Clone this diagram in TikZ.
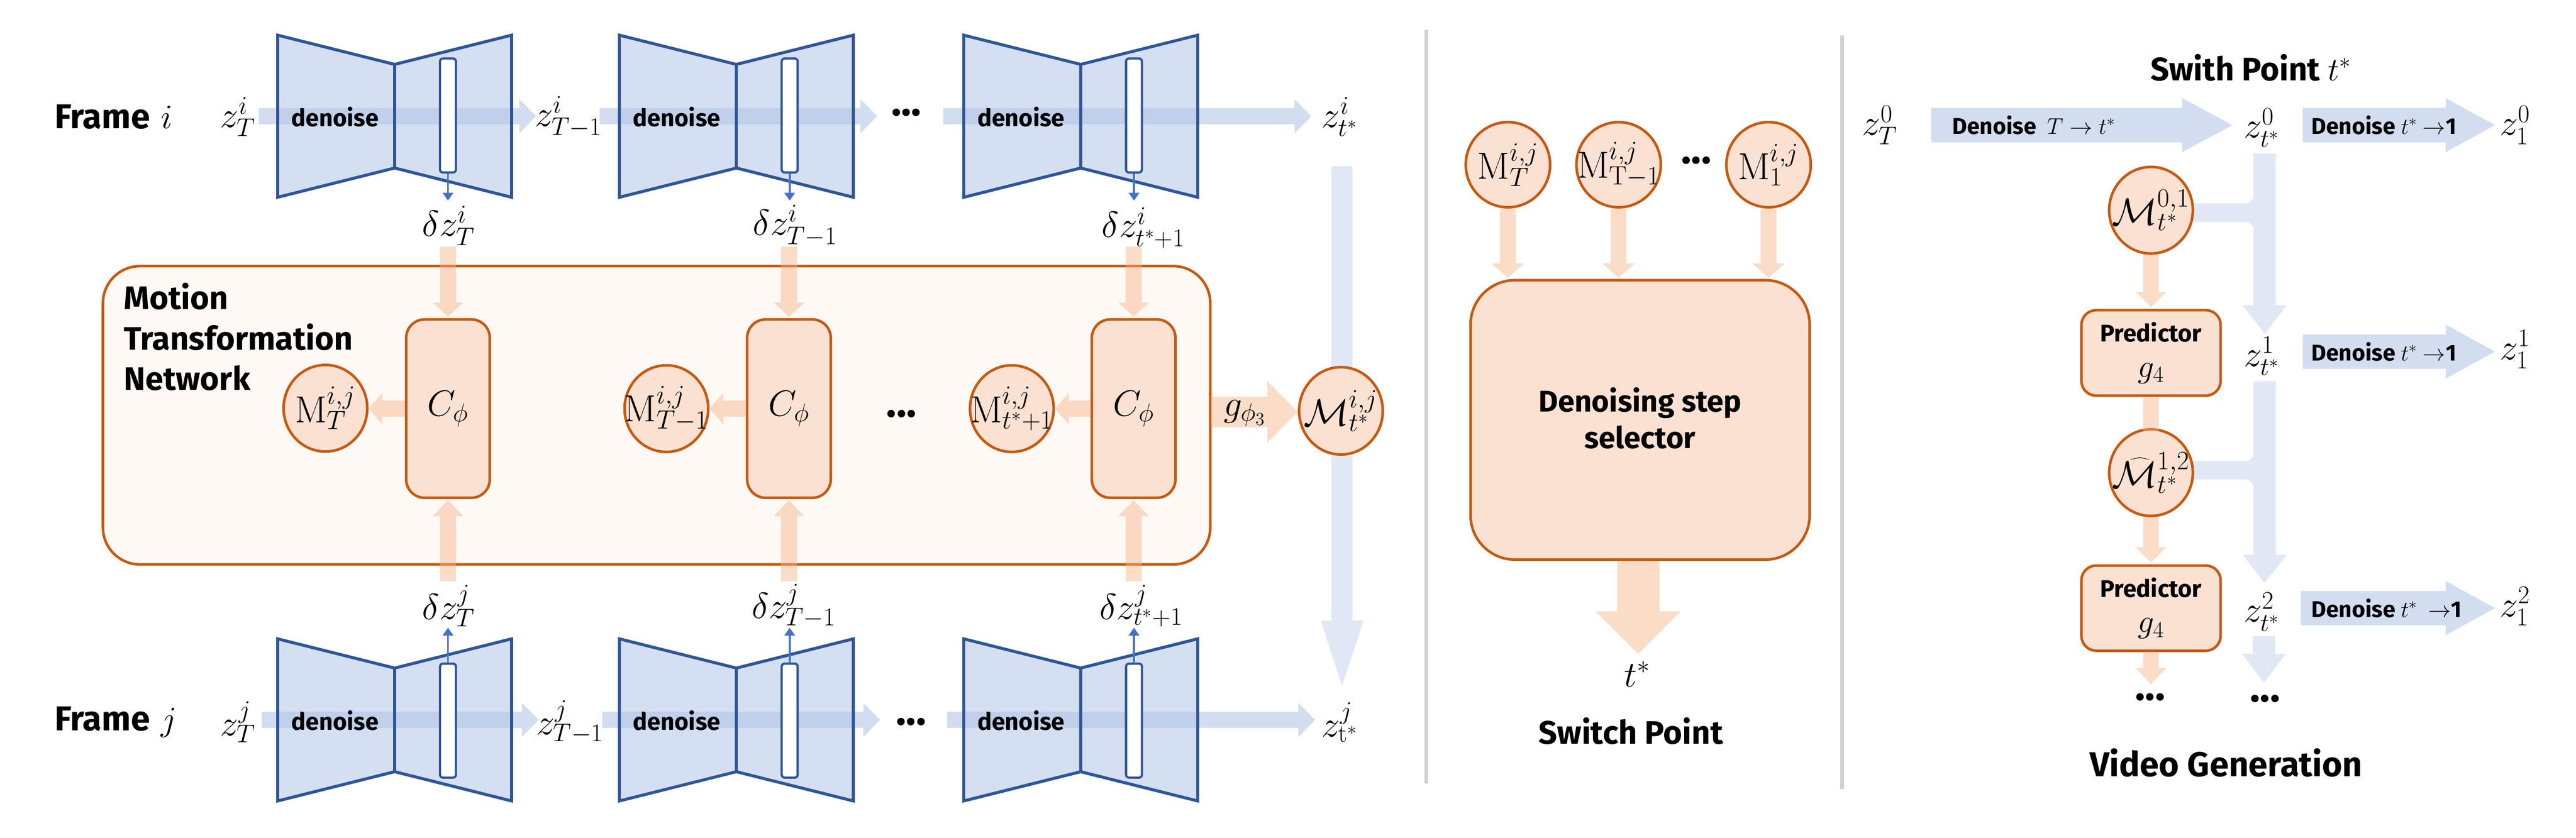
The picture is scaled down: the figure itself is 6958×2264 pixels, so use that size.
\RequirePackage{fix-cm}
\documentclass[tikz,border=0pt]{standalone}
\usepackage[no-math]{fontspec}
\setmainfont{Fira Sans}
\usetikzlibrary{calc,arrows.meta,shapes.geometric}
\newdimen\pxu \pxu=0.01cm
\definecolor{ublue}{HTML}{B4C7E7}
\definecolor{udark}{HTML}{2F5597}
\definecolor{ulink}{HTML}{4472C4}
\definecolor{oline}{HTML}{C55A11}
\definecolor{ofill}{HTML}{FBE1D2}
\definecolor{mtnfill}{HTML}{FFF9F5}
\definecolor{barrow}{HTML}{D2DDF0}
\definecolor{barrowlight}{HTML}{E1E8F5}
\definecolor{oarrow}{HTML}{F4B183}
\definecolor{divgray}{HTML}{D0D0D0}
\tikzset{
  barr/.style={fill=barrow},
  larr/.style={fill=barrowlight},
  oarr/.style={fill=oarrow, fill opacity=0.45},
  bar/.style={draw=udark, line width=1.7pt, fill=white, rounded corners=8\pxu, minimum width=43\pxu, minimum height=308\pxu, inner sep=0pt},
  obox/.style={draw=oline, line width=2pt, fill=ofill, inner sep=0pt},
  ocirc/.style={ellipse, draw=oline, line width=2pt, fill=ofill, inner sep=0pt, minimum width=226\pxu, minimum height=234\pxu},
  ctext/.style={font=\fontsize{29}{33}\selectfont, inner sep=0pt},
  txtbig/.style={font=\fontsize{25}{31}\selectfont\bfseries, inner sep=0pt},
  txtframe/.style={font=\fontsize{26.5}{31}\selectfont\bfseries, inner sep=0pt},
  txtdots/.style={font=\fontsize{32}{36}\selectfont\bfseries, inner sep=0pt},
  txtsel/.style={font=\fontsize{23}{28}\selectfont\bfseries, inner sep=0pt, align=center},
  txtsmall/.style={font=\fontsize{17.5}{25}\selectfont\bfseries, inner sep=0pt},
  txtden/.style={font=\fontsize{18.5}{25}\selectfont\bfseries, inner sep=0pt},
  mlbl/.style={font=\fontsize{28}{32}\selectfont, inner sep=0pt},
  smallarr/.style={draw=ulink, line width=1.4pt, -{Triangle[length=6pt,width=8pt]}},
  divider/.style={draw=divgray, line width=2.8pt},
}
% horizontal block arrow: style, tail, tip, shaft half, head half, head length
\newcommand\harrow[6]{%
  \fill[#1] let \p1=#2, \p2=#3, \n1={sign(\x2-\x1)} in
  (\x1,{\y1+#4}) -- ({\x2-(\n1)*#6},{\y1+#4}) -- ({\x2-(\n1)*#6},{\y1+#5}) -- (\x2,\y1)
  -- ({\x2-(\n1)*#6},{\y1-#5}) -- ({\x2-(\n1)*#6},{\y1-#4}) -- (\x1,{\y1-#4}) -- cycle;}
% vertical block arrow
\newcommand\varrow[6]{%
  \fill[#1] let \p1=#2, \p2=#3, \n1={sign(\y2-\y1)} in
  ({\x1-#4},\y1) -- ({\x1-#4},{\y2-(\n1)*#6}) -- ({\x1-#5},{\y2-(\n1)*#6}) -- (\x1,\y2)
  -- ({\x1+#5},{\y2-(\n1)*#6}) -- ({\x1+#4},{\y2-(\n1)*#6}) -- ({\x1+#4},\y1) -- cycle;}
% U-Net shape: name, left x, centre y
\newcommand\unet[3]{%
  \coordinate (#1) at (#2,#3);
  \fill[ublue, fill opacity=0.57] ($(#1)+(0,-219)$) -- ($(#1)+(316,-140)$) -- ($(#1)+(632,-219)$)
     -- ($(#1)+(632,219)$) -- ($(#1)+(316,140)$) -- ($(#1)+(0,219)$) -- cycle;
  \draw[udark, line width=2.3pt] ($(#1)+(0,-219)$) -- ($(#1)+(316,-140)$) -- ($(#1)+(632,-219)$)
     -- ($(#1)+(632,219)$) -- ($(#1)+(316,140)$) -- ($(#1)+(0,219)$) -- cycle
     ($(#1)+(316,-140)$) -- ($(#1)+(316,140)$);
  \node[txtden] (#1txt) at ($(#1)+(155,2)$) {denoise};
}
\begin{document}
\begin{tikzpicture}[x=0.01cm,y=-0.01cm]
\useasboundingbox (0,0) rectangle (6958,2264);

% ================= Panel 1 =================
\node[txtframe, anchor=west] (fri) at (147,316) {Frame\hspace{30\pxu}$i$};
\node[txtframe, anchor=west] (frj) at (147,1951) {Frame\hspace{30\pxu}$j$};

\node[mlbl] (zTi)  at (643,316)  {$z^{i}_{T}$};
\node[mlbl] (zT1i) at (1535,316) {$z^{i}_{T-1}$};
\node[mlbl] (zsi)  at (3619,316) {$z^{i}_{t^*}$};
\node[mlbl] (zTj)  at (643,1951) {$z^{j}_{T}$};
\node[mlbl] (zT1j) at (1540,1951) {$z^{j}_{T-1}$};
\node[mlbl] (zsj)  at (3619,1951) {$z^{j}_{\mathrm{t}^*}$};

% blue flow arrows (under the U-Nets)
\harrow{barr}{(699,314)}{(1448,314)}{22\pxu}{46\pxu}{45\pxu}
\harrow{barr}{(1620,314)}{(2369,314)}{22\pxu}{46\pxu}{45\pxu}
\harrow{barr}{(2548,314)}{(3542,314)}{22\pxu}{46\pxu}{45\pxu}
\harrow{barr}{(707,1945)}{(1455,1945)}{22\pxu}{46\pxu}{45\pxu}
\harrow{barr}{(1627,1945)}{(2377,1945)}{22\pxu}{46\pxu}{45\pxu}
\harrow{barr}{(2558,1945)}{(3552,1945)}{22\pxu}{46\pxu}{45\pxu}

% U-Nets
\unet{ua}{750}{314}
\unet{ub}{1673}{314}
\unet{uc}{2603}{314}
\unet{va}{750}{1945}
\unet{vb}{1673}{1945}
\unet{vc}{2603}{1945}

\node[bar] (bua) at ($(ua)+(460,-2)$) {};
\node[bar] (bub) at ($(ub)+(460,-2)$) {};
\node[bar] (buc) at ($(uc)+(460,-2)$) {};
\node[bar] (bva) at ($(va)+(460,2)$) {};
\node[bar] (bvb) at ($(vb)+(460,2)$) {};
\node[bar] (bvc) at ($(vc)+(460,2)$) {};

\node[txtdots] (dots1) at (2448,304) {...};
\node[txtdots] (dots2) at (2461,1950) {...};

% delta labels
\node[mlbl] (dzTi)  at (1212,610) {$\delta z^{i}_{T}$};
\node[mlbl] (dzT1i) at (2148,610) {$\delta z^{i}_{T-1}$};
\node[mlbl] (dzsi)  at (3089,615) {$\delta z^{i}_{t^*+1}$};
\node[mlbl] (dzTj)  at (1212,1637) {$\delta z^{j}_{T}$};
\node[mlbl] (dzT1j) at (2144,1637) {$\delta z^{j}_{T-1}$};
\node[mlbl] (dzsj)  at (3083,1637) {$\delta z^{j}_{t^*+1}$};

\draw[smallarr] (bua.south) -- ($(bua.south)+(0,73)$);
\draw[smallarr] (bub.south) -- ($(bub.south)+(0,73)$);
\draw[smallarr] (buc.south) -- ($(buc.south)+(0,73)$);
\draw[smallarr] (bva.north) -- ($(bva.north)+(0,-94)$);
\draw[smallarr] (bvb.north) -- ($(bvb.north)+(0,-94)$);
\draw[smallarr] (bvc.north) -- ($(bvc.north)+(0,-94)$);

% Motion Transformation Network
\node[draw=oline, line width=2pt, fill=mtnfill, rounded corners=100\pxu, minimum width=2991\pxu, minimum height=806\pxu, inner sep=0pt] (mtn) at (1773.5,1122) {};
\node[txtbig, anchor=north west, align=left] (mtntxt) at (334,764) {Motion\\Transformation\\Network};

\node[obox, rounded corners=50\pxu, minimum width=226\pxu, minimum height=482\pxu] (C1) at (1210,1104) {};
\node[obox, rounded corners=50\pxu, minimum width=226\pxu, minimum height=482\pxu] (C2) at (2131,1104) {};
\node[obox, rounded corners=50\pxu, minimum width=226\pxu, minimum height=482\pxu] (C3) at (3062,1104) {};
\node[mlbl] (C1t) at (C1) {$C_{\phi}$};
\node[mlbl] (C2t) at (C2) {$C_{\phi}$};
\node[mlbl] (C3t) at (C3) {$C_{\phi}$};

\node[ocirc] (M1) at (879,1103) {};
\node[ocirc] (M2) at (1800,1104) {};
\node[ocirc] (M3) at (2733,1104) {};
\node[ctext] (M1t) at (M1) {$\mathrm{M}^{i,j}_{T}$};
\node[ctext] (M2t) at (M2) {$\mathrm{M}^{i,j}_{T-1}$};
\node[ctext] (M3t) at (M3) {$\mathrm{M}^{i,j}_{t^*+1}$};
\node[txtdots] (dots3) at (2435,1118) {...};

% orange arrows in MTN
\harrow{oarr}{(C1.west)}{(M1.east)}{22\pxu}{42\pxu}{37\pxu}
\harrow{oarr}{(C2.west)}{(M2.east)}{22\pxu}{42\pxu}{37\pxu}
\harrow{oarr}{(C3.west)}{(M3.east)}{22\pxu}{42\pxu}{37\pxu}
\varrow{oarr}{($(C1.north)+(0,-193)$)}{($(C1.north)+(0,-4)$)}{21.5\pxu}{41\pxu}{38\pxu}
\varrow{oarr}{($(C2.north)+(0,-193)$)}{($(C2.north)+(0,-4)$)}{21.5\pxu}{41\pxu}{38\pxu}
\varrow{oarr}{($(C3.north)+(0,-193)$)}{($(C3.north)+(0,-4)$)}{21.5\pxu}{41\pxu}{38\pxu}
\varrow{oarr}{($(C1.south)+(0,222)$)}{($(C1.south)+(0,3)$)}{21.5\pxu}{41\pxu}{43\pxu}
\varrow{oarr}{($(C2.south)+(0,222)$)}{($(C2.south)+(0,3)$)}{21.5\pxu}{41\pxu}{43\pxu}
\varrow{oarr}{($(C3.south)+(0,222)$)}{($(C3.south)+(0,3)$)}{21.5\pxu}{41\pxu}{43\pxu}

% z_t* i -> z_t* j and motion output
\varrow{larr}{(3625,449)}{(3625,1854)}{28.5\pxu}{57.5\pxu}{177\pxu}
\node[ocirc, minimum height=236\pxu] (Ms) at (3622,1110) {};
\node[ctext] (Mst) at (Ms) {$\mathcal{M}^{i,j}_{t^*}$};
\harrow{oarr}{(3271,1113)}{(Ms.west)}{41\pxu}{83\pxu}{82\pxu}
\node[mlbl] (g3) at (3362,1116) {$g_{\phi_3}$};

% dividers
\draw[divider] (3853,81) -- (3853,2116);
\draw[divider] (4976,96) -- (4976,2132);

% ================= Panel 2 =================
\node[ocirc, minimum width=228\pxu, minimum height=230\pxu] (S1) at (4073,445) {};
\node[ocirc, minimum width=228\pxu, minimum height=230\pxu] (S2) at (4372,445) {};
\node[ocirc, minimum width=228\pxu, minimum height=230\pxu] (S3) at (4777,445) {};
\node[ctext] (S1t) at (S1) {$\mathrm{M}^{i,j}_{T}$};
\node[ctext] (S2t) at (S2) {$\mathrm{M}^{i,j}_{\mathrm{T}-1}$};
\node[ctext] (S3t) at (S3) {$\mathrm{M}^{i,j}_{1}$};
\node[txtdots] (dots4) at (4582,434) {...};
\node[obox, rounded corners=120\pxu, minimum width=916\pxu, minimum height=755\pxu] (sel) at (4430,1134.5) {};
\node[txtsel] (seltxt) at (4430,1130) {Denoising step\\selector};
\varrow{oarr}{(S1.south)}{($(S1.south|-sel.north)+(0,-3)$)}{21.5\pxu}{44\pxu}{39\pxu}
\varrow{oarr}{(S2.south)}{($(S2.south|-sel.north)+(0,-3)$)}{21.5\pxu}{44\pxu}{39\pxu}
\varrow{oarr}{(S3.south)}{($(S3.south|-sel.north)+(0,-3)$)}{21.5\pxu}{44\pxu}{39\pxu}
\node[mlbl] (tstar) at (4422,1822) {$t^*$};
\varrow{oarr}{($(sel.south)+(-5,0)$)}{($(sel.south)+(-5,251)$)}{57\pxu}{115\pxu}{115\pxu}
\node[txtbig] (swp) at (4405,1975) {Switch Point};

% ================= Panel 3 =================
\node[txtbig] (title3) at (6080,183) {Swith Point $t^*$};
\node[mlbl] (z0T) at (5078,338) {$z^{0}_{T}$};
\node[mlbl] (zs0) at (6109,345) {$z^{0}_{t^*}$};
\node[mlbl] (z10) at (6794,338) {$z^{0}_{1}$};
\node[mlbl] (zs1) at (6109,962) {$z^{1}_{t^*}$};
\node[mlbl] (z11) at (6794,944) {$z^{1}_{1}$};
\node[mlbl] (zs2) at (6109,1653) {$z^{2}_{t^*}$};
\node[mlbl] (z12) at (6794,1638) {$z^{2}_{1}$};

\harrow{barr}{(5216,338)}{(6030,338)}{46.5\pxu}{73\pxu}{136\pxu}
\harrow{barr}{(6220,338)}{(6739,338)}{46.5\pxu}{73\pxu}{133\pxu}
\harrow{barr}{(6220,950)}{(6739,950)}{46.5\pxu}{73\pxu}{133\pxu}
\harrow{barr}{(6215,1643)}{(6739,1643)}{46.5\pxu}{73\pxu}{133\pxu}
\node[txtsmall, anchor=west] (d1) at (5273,338) {Denoise \ $T\rightarrow t^*$};
\node[txtsmall, anchor=west] (d2) at (6243,338) {Denoise $t^*$ $\rightarrow$1};
\node[txtsmall, anchor=west] (d3) at (6243,950) {Denoise $t^*$ $\rightarrow$1};
\node[txtsmall, anchor=west] (d4) at (6243,1643) {Denoise $t^*$ \ $\rightarrow$1};

% vertical latent flow
\varrow{larr}{(6117,415)}{(6117,902)}{30\pxu}{59.5\pxu}{77\pxu}
\varrow{larr}{(6117,1030)}{(6117,1575)}{30\pxu}{59.5\pxu}{76\pxu}
\varrow{larr}{(6115,1718)}{(6115,1845)}{30\pxu}{59.5\pxu}{79\pxu}
% branches from motion to latent flow
\fill[larr] (5880,550) rectangle (6095,600);
\fill[larr] (6065,550) .. controls (6077,550) and (6087,540) .. (6087,528) -- (6087,550) -- cycle;
\fill[larr] (6065,600) .. controls (6077,600) and (6087,610) .. (6087,622) -- (6087,600) -- cycle;
\fill[larr] (5880,1246) rectangle (6095,1296);
\fill[larr] (6065,1246) .. controls (6077,1246) and (6087,1236) .. (6087,1224) -- (6087,1246) -- cycle;
\fill[larr] (6065,1296) .. controls (6077,1296) and (6087,1306) .. (6087,1318) -- (6087,1296) -- cycle;

\node[ocirc] (PM1) at (5810,568) {};
\node[ctext] (PM1t) at (PM1) {$\mathcal{M}^{0,1}_{t^*}$};
\node[obox, rounded corners=40\pxu, minimum width=376\pxu, minimum height=231\pxu, align=center, font=\fontsize{18.5}{25}\selectfont\bfseries] (P1) at (5810,953.5) {Predictor\\[2pt]\fontsize{25}{28}\selectfont\mdseries$g_4$};
\node[ocirc] (PM2) at (5810,1277) {};
\node[ctext] (PM2t) at (PM2) {$\widehat{\mathcal{M}}^{1,2}_{t^*}$};
\node[obox, rounded corners=40\pxu, minimum width=376\pxu, minimum height=230\pxu, align=center, font=\fontsize{18.5}{25}\selectfont\bfseries] (P2) at (5810,1643) {Predictor\\[2pt]\fontsize{25}{28}\selectfont\mdseries$g_4$};

\varrow{oarr}{(PM1.south)}{($(P1.north)+(0,-5)$)}{21\pxu}{41.5\pxu}{41\pxu}
\fill[oarr] ($(P1.south)+(-21,2)$) rectangle ($(PM2.north)+(21,8)$);
\varrow{oarr}{(PM2.south)}{($(P2.north)+(0,-5)$)}{21\pxu}{41.5\pxu}{41\pxu}
\varrow{oarr}{(P2.south)}{($(P2.south)+(0,87)$)}{21\pxu}{41.5\pxu}{44\pxu}

\node[txtdots] (dots5) at (5808,1884) {...};
\node[txtdots] (dots6) at (6118,1888) {...};
\node[txtbig, font=\fontsize{26.5}{31}\selectfont\bfseries] (vg) at (6013,2061) {Video Generation};
\end{tikzpicture}
\end{document}
